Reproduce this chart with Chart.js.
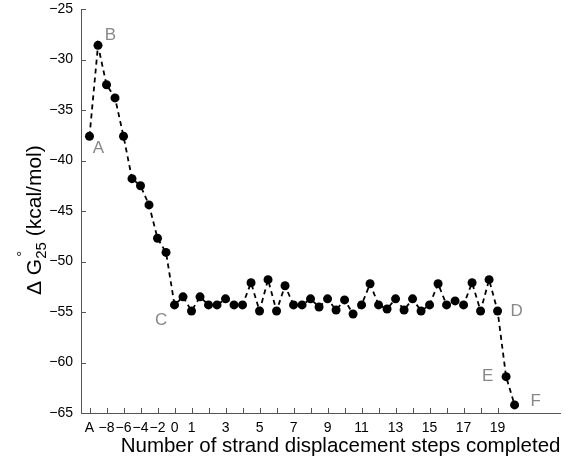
<!DOCTYPE html>
<html>
<head>
<meta charset="utf-8">
<script src="https://cdn.jsdelivr.net/npm/chart.js@4/dist/chart.umd.min.js"></script>
<style>
  html, body { margin: 0; padding: 0; background: #fff; }
  #wrap { width: 565px; height: 459px; position: relative; }
</style>
</head>
<body>
<div id="wrap"><canvas id="chart"></canvas></div>
<script>
// positions along the strand-displacement axis (half steps)
const xs = [
  0, 0.5, 1, 1.5, 2, 2.5, 3, 3.5, 4, 4.5,
  5, 5.5, 6, 6.5, 7, 7.5, 8, 8.5, 9, 9.5,
  10, 10.5, 11, 11.5, 12, 12.5, 13, 13.5, 14, 14.5,
  15, 15.5, 16, 16.5, 17, 17.5, 18, 18.5, 19, 19.5,
  20, 20.5, 21, 21.5, 22, 22.5, 23, 23.5, 24, 24.5, 25
];
// delta G (kcal/mol)
const dG = [
  -37.6, -28.6, -32.5, -33.8, -37.6, -41.8, -42.5, -44.4, -47.7, -49.1,
  -54.3, -53.5, -54.9, -53.5, -54.3, -54.3, -53.7, -54.3, -54.3, -52.1,
  -54.9, -51.8, -54.9, -52.4, -54.3, -54.3, -53.7, -54.5, -53.7, -54.8,
  -53.8, -55.2, -54.3, -52.2, -54.3, -54.7, -53.7, -54.8, -53.7, -54.9,
  -54.3, -52.2, -54.3, -53.9, -54.3, -52.1, -54.9, -51.8, -54.9, -61.4, -64.2
];
const tickPositions = [0,1,2,3,4,5,6,7,8,9,10,11,12,13,14,15,16,17,18,19,20,21,22,23,24];
const tickLabels = ["A","\u22128","\u22126","\u22124","\u22122","0","1","","3","","5","","7","","9","","11","","13","","15","","17","","19"];
const yTicks = [-65, -60, -55, -50, -45, -40, -35, -30, -25];
// state letters and the point each one belongs to
const stateLetters = ["A", "B", "C", "D", "E", "F"];
const statePoints = [0, 1, 10, 48, 49, 50];

const FONT = "'Liberation Sans', Arial, Helvetica, sans-serif";
const AXIS = "#555";

const points = xs.map((x, i) => ({ x, y: dG[i] }));

const decorPlugin = {
  id: "decor",
  afterDraw(c) {
    const { ctx, chartArea, scales } = c;
    const x = scales.x, y = scales.y;
    ctx.save();

    // inward tick marks
    ctx.strokeStyle = AXIS;
    ctx.lineWidth = 1;
    ctx.beginPath();
    tickPositions.forEach((v) => {
      const px = Math.round(x.getPixelForValue(v)) + 0.5;
      ctx.moveTo(px, chartArea.bottom);
      ctx.lineTo(px, chartArea.bottom - 5);
    });
    yTicks.forEach((v) => {
      const py = Math.round(y.getPixelForValue(v)) + 0.5;
      ctx.moveTo(chartArea.left, py);
      ctx.lineTo(chartArea.left + 5, py);
    });
    ctx.stroke();

    // state letters
    const offsets = {
      A: [9, 12], B: [12.5, -10], C: [-13.5, 15],
      D: [19, 0], E: [-18.5, 0], F: [21, -4]
    };
    ctx.fillStyle = "#888";
    ctx.font = "17px " + FONT;
    ctx.textAlign = "center";
    ctx.textBaseline = "middle";
    stateLetters.forEach((s, k) => {
      const i = statePoints[k];
      const px = x.getPixelForValue(xs[i]);
      const py = y.getPixelForValue(dG[i]);
      ctx.fillText(s, px + offsets[s][0], py + offsets[s][1]);
    });

    // y axis title: Δ G°25 (kcal/mol)
    ctx.translate(41, 295);
    ctx.rotate(-Math.PI / 2);
    ctx.fillStyle = "#000";
    ctx.textAlign = "left";
    ctx.textBaseline = "alphabetic";
    let cx = 0;
    ctx.font = "21px " + FONT;
    ctx.fillText("\u0394 G", cx, 0);
    cx += ctx.measureText("\u0394 G").width;
    ctx.font = "15px " + FONT;
    ctx.fillText("\u00b0", cx + 2, -14);
    ctx.fillText("25", cx, 5);
    cx += ctx.measureText("25").width;
    ctx.font = "21px " + FONT;
    ctx.fillText(" (kcal/mol)", cx, 0);

    ctx.restore();
  }
};

new Chart(document.getElementById("chart"), {
  type: "line",
  data: {
    datasets: [{
      data: points,
      borderColor: "#000",
      borderWidth: 1.8,
      borderDash: [5, 4],
      backgroundColor: "#000",
      pointRadius: 4.5,
      pointBorderWidth: 0,
      pointBackgroundColor: "#000",
      tension: 0
    }]
  },
  options: {
    responsive: true,
    maintainAspectRatio: false,
    animation: false,
    layout: { padding: { top: 9, right: 2, left: 0, bottom: 0 } },
    plugins: { legend: { display: false }, tooltip: { enabled: false } },
    scales: {
      x: {
        type: "linear",
        min: -0.5,
        max: 27.7,
        afterBuildTicks(s) { s.ticks = tickPositions.map((v) => ({ value: v })); },
        afterFit(s) { s.height = 46; s.paddingLeft = 0; s.paddingRight = 0; },
        grid: { display: true, drawOnChartArea: false, drawTicks: false },
        border: { display: true, color: AXIS, width: 1 },
        ticks: {
          autoSkip: false,
          maxRotation: 0,
          padding: 7,
          color: "#000",
          font: { family: FONT, size: 14 },
          callback(v) { const i = tickPositions.indexOf(v); return i >= 0 ? tickLabels[i] : ""; }
        },
        title: {
          display: true,
          text: "Number of strand displacement steps completed",
          align: "end",
          color: "#000",
          font: { family: FONT, size: 20.5 },
          padding: { top: 0, bottom: 0 }
        }
      },
      y: {
        min: -65,
        max: -25,
        afterBuildTicks(s) { s.ticks = yTicks.map((v) => ({ value: v })); },
        afterFit(s) { s.width = 81; s.paddingTop = 0; s.paddingBottom = 0; },
        grid: { display: true, drawOnChartArea: false, drawTicks: false },
        border: { display: true, color: AXIS, width: 1 },
        ticks: {
          padding: 8,
          color: "#000",
          font: { family: FONT, size: 14 },
          callback(v) { return String(v).replace("-", "\u2212"); }
        }
      }
    }
  },
  plugins: [decorPlugin]
});
</script>
</body>
</html>
